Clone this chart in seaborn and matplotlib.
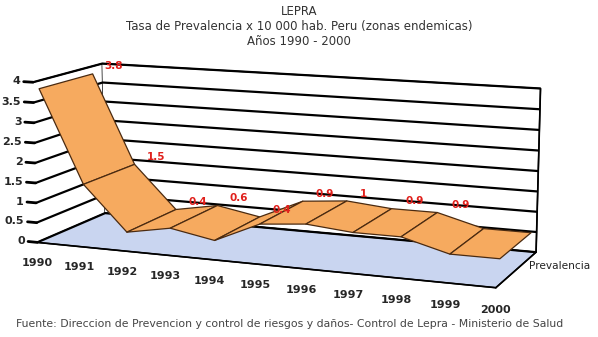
import numpy as np
import pandas as pd
import matplotlib.pyplot as plt
import seaborn as sns
from mpl_toolkits.mplot3d.art3d import Poly3DCollection

sns.set_style("white")
plt.rcParams['font.family'] = ['DejaVu Sans']

years = ['1990', '1991', '1992', '1993', '1994', '1995',
         '1996', '1997', '1998', '1999', '2000']
prevalencia = [3.8, 1.5, 0.4, 0.6, 0.4, 0.9, 1.0, 0.9, 0.9, 0.6, 0.6]
etiquetas = ['3.8', '1.5', '0.4', '0.6', '0.4', '0.9', '1', '0.9', '0.9', '', '']
z_ticks = [0, 0.5, 1, 1.5, 2, 2.5, 3, 3.5, 4]
z_labels = ['0', '0.5', '1', '1.5', '2', '2.5', '3', '3.5', '4']

df = pd.DataFrame({'anio': years, 'prev': prevalencia, 'etiqueta': etiquetas})
df['x'] = np.arange(len(df))

y0, y1 = 0.08, 0.85  # ribbon depth

fig = plt.figure(figsize=(5.98, 3.37), dpi=100)
ax = fig.add_axes([-0.033, -0.009, 1.0, 1.0], projection='3d')
ax.view_init(elev=11, azim=-68)
ax.set_box_aspect((1.55, 0.48, 0.53), zoom=1.53)

ax.set_xlim(0, 10)
ax.set_ylim(0, 1)
ax.set_zlim(0, 4)

# panes
ax.xaxis.set_pane_color((1, 1, 1, 1))
ax.yaxis.set_pane_color((1, 1, 1, 1))
ax.zaxis.set_pane_color('#c9d5f0')
for a in (ax.xaxis, ax.yaxis, ax.zaxis):
    a.pane.set_edgecolor('black')
    a.line.set_color('black')
    a.line.set_linewidth(1.2)
    a._axinfo['grid'].update(color='black', linewidth=1.6)

ax.set_xticks([])
ax.set_yticks([])
ax.set_zticks(z_ticks)
ax.set_zticklabels([''] * len(z_ticks))
ax.zaxis._axinfo['tick']['linewidth'] = {True: 0, False: 0}

# z ticks + labels drawn on the front-left edge
for zt, zl in zip(z_ticks, z_labels):
    ax.plot([0, -0.22], [0, 0], [zt, zt], color='black', lw=2, clip_on=False)
    ax.text(-0.3, 0, zt, zl, ha='right', va='center', fontsize=8, fontweight='bold')

# ribbon
verts = []
for i in range(len(df) - 1):
    xa, xb = df.x[i], df.x[i + 1]
    va, vb = df.prev[i], df.prev[i + 1]
    verts.append([(xa, y0, va), (xb, y0, vb), (xb, y1, vb), (xa, y1, va)])
ribbon = Poly3DCollection(verts, facecolor='#f6aa5f', edgecolor='#4a2a10', linewidths=0.9)
ribbon.set_clip_on(False)
ax.add_collection3d(ribbon, autolim=False)

for _, r in df.iterrows():
    if r.etiqueta:
        ax.text(r.x + 0.3, y1, r.prev + 0.14, r.etiqueta, color='#e0201c',
                fontsize=7.5, fontweight='bold')
    ax.text(r.x, 0, -0.4, r.anio, ha='center', va='top', fontsize=8, fontweight='bold')

ax.text(10.25, 0.5, 0.1, 'Prevalencia', fontsize=7.6, ha='left', va='center', color='#222222')

fig.text(0.5, 0.985, 'LEPRA\nTasa de Prevalencia x 10 000 hab. Peru (zonas endemicas)\nAños 1990 - 2000',
         ha='center', va='top', fontsize=8.5, color='#333333', linespacing=1.2)
fig.text(0.027, 0.025, 'Fuente: Direccion de Prevencion y control de riesgos y daños- Control de Lepra - Ministerio de Salud',
         ha='left', va='bottom', fontsize=7.8, color='#444444')

fig.savefig('out.png', dpi=100)
